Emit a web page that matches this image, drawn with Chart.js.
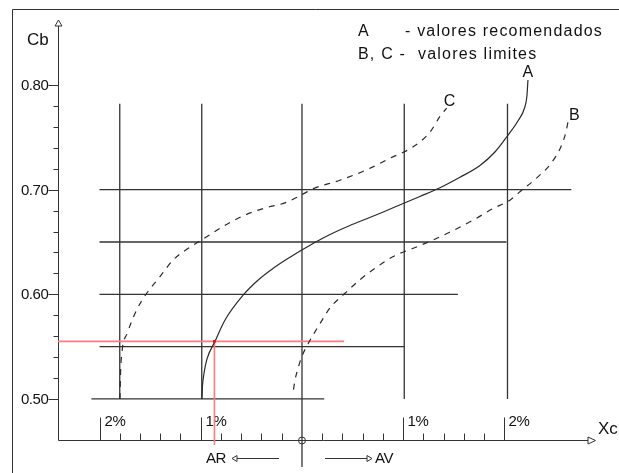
<!DOCTYPE html>
<html>
<head>
<meta charset="utf-8">
<script src="https://cdn.jsdelivr.net/npm/chart.js@4/dist/chart.umd.min.js"></script>
<style>
  html, body { margin: 0; padding: 0; background: #fff; }
  #wrap { width: 619px; height: 473px; }
</style>
</head>
<body>
<div id="wrap"><canvas id="chart" width="619" height="473"></canvas></div>
<script>
// Xc in % (negative = AR, positive = AV), Cb
const curveA_xc = [-0.988, -0.983, -0.973, -0.941, -0.859, -0.76, -0.58, -0.432, -0.283, -0.119, 0.007, 0.145, 0.277, 0.474, 0.639, 0.803, 1.0, 1.165, 1.363, 1.56, 1.758, 1.906, 2.025, 2.133, 2.198, 2.222, 2.232];
const curveA_cb = [0.5, 0.5124, 0.521, 0.5373, 0.5551, 0.5755, 0.5994, 0.6137, 0.6249, 0.6354, 0.6428, 0.6505, 0.6572, 0.6658, 0.6722, 0.6787, 0.6868, 0.6935, 0.7018, 0.7118, 0.7231, 0.736, 0.7508, 0.7656, 0.778, 0.7895, 0.8048];

const curveB_xc = [-0.084, -0.069, -0.037, 0.0, 0.062, 0.178, 0.277, 0.425, 0.573, 0.738, 0.919, 1.099, 1.297, 1.494, 1.692, 1.889, 2.054, 2.153, 2.327, 2.459, 2.558, 2.607, 2.63];
const curveB_cb = [0.509, 0.518, 0.53, 0.541, 0.553, 0.572, 0.587, 0.601, 0.614, 0.626, 0.637, 0.644, 0.652, 0.661, 0.671, 0.682, 0.69, 0.698, 0.712, 0.725, 0.741, 0.755, 0.766];

const curveC_xc = [-1.798, -1.793, -1.778, -1.725, -1.633, -1.534, -1.402, -1.271, -1.106, -0.975, -0.777, -0.58, -0.382, -0.151, 0.013, 0.112, 0.375, 0.639, 0.869, 1.099, 1.264, 1.363, 1.429];
const curveC_cb = [0.5, 0.523, 0.545, 0.563, 0.585, 0.601, 0.617, 0.633, 0.645, 0.653, 0.665, 0.675, 0.682, 0.688, 0.696, 0.701, 0.709, 0.719, 0.73, 0.741, 0.755, 0.77, 0.778];

// nomogram grid: horizontal rows and vertical columns
const rowCb = [0.50, 0.55, 0.60, 0.65, 0.70];
const rowFrom = [-2.08, -2.0, -2.0, -2.0, -2.0];
const rowTo = [0.22, 1.01, 1.54, 2.02, 2.66];
const colXc = [-1.8, -0.99, 0, 1.01, 2.03];
const colFrom = [0.50, 0.50, 0.435, 0.50, 0.50];
const colTo = [0.782, 0.782, 0.782, 0.782, 0.782];

// example reading (red)
const readXc = -0.865;
const readCb = 0.555;
const readLineEndXc = 0.415;

// axes
const yMajor = [0.50, 0.60, 0.70, 0.80];
const yMajorLabels = ["0.50", "0.60", "0.70", "0.80"];
const yMinor = [0.52, 0.54, 0.56, 0.58, 0.62, 0.64, 0.66, 0.68, 0.72, 0.74, 0.76, 0.78];
const xMajor = [-2, -1, 1, 2];
const xMajorLabels = ["2%", "1%", "1%", "2%"];
const xMinor = [-1.8, -1.6, -1.4, -1.2, -0.8, -0.6, -0.4, -0.2, 0.2, 0.4, 0.6, 0.8, 1.2, 1.4, 1.6, 1.8];

const FONT = "Arial, 'Liberation Sans', sans-serif";
const INK = "#2a2a2a";

const toPoints = (xs, ys) => xs.map((x, i) => ({ x: x, y: ys[i] }));

const datasets = [];
rowCb.forEach((cb, i) => {
  datasets.push({ data: [{ x: rowFrom[i], y: cb }, { x: rowTo[i], y: cb }], borderColor: "#333", borderWidth: 1.3, order: 5 });
});
colXc.forEach((xc, i) => {
  datasets.push({ data: [{ x: xc, y: colFrom[i] }, { x: xc, y: colTo[i] }], borderColor: "#333", borderWidth: 1.3, order: 5 });
});
datasets.push({ data: [{ x: -2.41, y: readCb }, { x: readLineEndXc, y: readCb }], borderColor: "#ff7b7b", borderWidth: 1.6, order: 4 });
datasets.push({ data: [{ x: readXc, y: readCb }, { x: readXc, y: 0.456 }], borderColor: "#ff7b7b", borderWidth: 1.6, order: 4 });
datasets.push({ data: toPoints(curveA_xc, curveA_cb), borderColor: INK, borderWidth: 1.2, cubicInterpolationMode: "monotone", order: 2 });
datasets.push({ data: toPoints(curveB_xc, curveB_cb), borderColor: INK, borderWidth: 1.2, borderDash: [6, 6], cubicInterpolationMode: "monotone", order: 2 });
datasets.push({ data: toPoints(curveC_xc, curveC_cb), borderColor: INK, borderWidth: 1.2, borderDash: [6, 6], cubicInterpolationMode: "monotone", order: 2 });
datasets.push({ data: [{ x: readXc, y: readCb }], showLine: false, pointRadius: 2, pointStyle: "rect", backgroundColor: "#e01818", borderColor: "#e01818", borderWidth: 0, order: 1 });

datasets.forEach(d => {
  if (d.showLine === undefined) d.showLine = true;
  if (d.pointRadius === undefined) d.pointRadius = 0;
  d.clip = false;
});

const axesPlugin = {
  id: "nomogramAxes",
  beforeDatasetsDraw(chart) {
    const ctx = chart.ctx;
    const xs = chart.scales.x, ys = chart.scales.y;
    const ox = Math.round(xs.getPixelForValue(xs.min)) + 0.5;
    const oy = Math.round(ys.getPixelForValue(ys.min)) + 0.5;
    const top = ys.getPixelForValue(ys.max);
    const right = xs.getPixelForValue(xs.max);
    ctx.save();
    ctx.strokeStyle = "#333";
    ctx.lineWidth = 1;

    // frame
    ctx.beginPath();
    ctx.moveTo(12.5, 473); ctx.lineTo(12.5, 9.5); ctx.lineTo(619, 9.5);
    ctx.stroke();

    // y axis + arrow
    ctx.beginPath(); ctx.moveTo(ox, oy); ctx.lineTo(ox, top + 4); ctx.stroke();
    ctx.beginPath();
    ctx.moveTo(ox, top - 2); ctx.lineTo(ox - 3.5, top + 4); ctx.lineTo(ox + 3.5, top + 4); ctx.closePath();
    ctx.fillStyle = "#fff"; ctx.fill(); ctx.stroke();

    // x axis + arrow
    ctx.beginPath(); ctx.moveTo(ox, oy); ctx.lineTo(right - 2, oy); ctx.stroke();
    ctx.beginPath();
    ctx.moveTo(right + 5.5, oy); ctx.lineTo(right - 2, oy - 3.5); ctx.lineTo(right - 2, oy + 3.5); ctx.closePath();
    ctx.fill(); ctx.stroke();

    // y ticks
    ctx.fillStyle = "#111";
    ctx.font = "15px " + FONT;
    ctx.letterSpacing = "-0.4px";
    ctx.textAlign = "right";
    ctx.textBaseline = "middle";
    yMajor.forEach((v, i) => {
      const y = Math.round(ys.getPixelForValue(v)) + 0.5;
      ctx.beginPath(); ctx.moveTo(ox - 10, y); ctx.lineTo(ox, y); ctx.stroke();
      ctx.fillText(yMajorLabels[i], ox - 10, y + 0.5);
    });
    yMinor.forEach(v => {
      const y = Math.round(ys.getPixelForValue(v)) + 0.5;
      ctx.beginPath(); ctx.moveTo(ox - 5, y); ctx.lineTo(ox, y); ctx.stroke();
    });

    // x ticks
    ctx.textAlign = "left";
    xMajor.forEach((v, i) => {
      const x = Math.round(xs.getPixelForValue(v)) + 0.5;
      ctx.beginPath(); ctx.moveTo(x, oy - 23); ctx.lineTo(x, oy); ctx.stroke();
      ctx.fillText(xMajorLabels[i], x + 4, oy - 19);
    });
    xMinor.forEach(v => {
      const x = Math.round(xs.getPixelForValue(v)) + 0.5;
      ctx.beginPath(); ctx.moveTo(x, oy - 7); ctx.lineTo(x, oy); ctx.stroke();
    });

    // origin marker
    const x0 = xs.getPixelForValue(0);
    ctx.beginPath(); ctx.arc(x0, oy, 3.5, 0, Math.PI * 2); ctx.stroke();

    // AR / AV arrows
    const ay = oy + 18;
    ctx.beginPath(); ctx.moveTo(237, ay); ctx.lineTo(279, ay); ctx.stroke();
    ctx.beginPath(); ctx.moveTo(232, ay); ctx.lineTo(237, ay - 3); ctx.lineTo(237, ay + 3); ctx.closePath();
    ctx.fillStyle = "#fff"; ctx.fill(); ctx.stroke();
    ctx.beginPath(); ctx.moveTo(325, ay); ctx.lineTo(367, ay); ctx.stroke();
    ctx.beginPath(); ctx.moveTo(372, ay); ctx.lineTo(367, ay - 3); ctx.lineTo(367, ay + 3); ctx.closePath();
    ctx.fill(); ctx.stroke();
    ctx.fillStyle = "#111";
    ctx.fillText("AR", 206, ay + 0.5);
    ctx.fillText("AV", 375, ay + 0.5);
    ctx.letterSpacing = "0px";

    // axis titles
    ctx.font = "17px " + FONT;
    ctx.fillText("Cb", 27, 40);
    ctx.fillText("Xc", 598, 429);

    // legend
    ctx.font = "16px " + FONT;
    ctx.letterSpacing = "1.2px";
    ctx.fillText("A", 358, 32);
    ctx.fillText("- valores recomendados", 405, 32);
    ctx.fillText("B, C -", 358, 55);
    ctx.fillText("valores limites", 418, 55);
    ctx.letterSpacing = "0px";

    // curve names
    ctx.textAlign = "center";
    ctx.fillText("A", xs.getPixelForValue(curveA_xc[curveA_xc.length - 1]), 73);
    ctx.fillText("C", xs.getPixelForValue(curveC_xc[curveC_xc.length - 1]) + 3, 102);
    ctx.fillText("B", xs.getPixelForValue(curveB_xc[curveB_xc.length - 1]) + 6, 116);
    ctx.restore();
  }
};

new Chart(document.getElementById("chart").getContext("2d"), {
  type: "scatter",
  data: { datasets: datasets },
  options: {
    responsive: false,
    animation: false,
    layout: { padding: { left: 58, top: 22, right: 29, bottom: 33 } },
    scales: {
      x: { type: "linear", min: -2.41, max: 2.845, display: false },
      y: { type: "linear", min: 0.4608, max: 0.8602, display: false }
    },
    plugins: { legend: { display: false }, tooltip: { enabled: false } }
  },
  plugins: [axesPlugin]
});
</script>
</body>
</html>
